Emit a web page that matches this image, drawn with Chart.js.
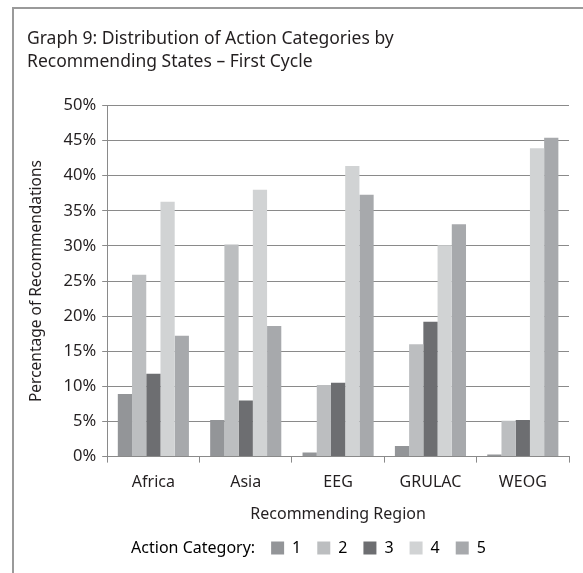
<!DOCTYPE html>
<html>
<head>
<meta charset="utf-8">
<script src="https://cdn.jsdelivr.net/npm/chart.js@4/dist/chart.umd.min.js"></script>
<style>
  body { margin: 0; background: #fff; }
  #wrap { position: relative; width: 583px; height: 573px; }
  #frame { position: absolute; left: 12px; top: 7px; right: 0; bottom: 0;
           border-left: 2px solid #9a9a9a; border-top: 2px solid #9a9a9a; }
  canvas { position: absolute; left: 0; top: 0; }
</style>
</head>
<body>
<div id="wrap">
  <div id="frame"></div>
  <canvas id="chart" width="583" height="573"></canvas>
</div>
<script>
// regions and action categories
const regions = ['Africa', 'Asia', 'EEG', 'GRULAC', 'WEOG'];
const categories = ['1', '2', '3', '4', '5'];

// percentage of recommendations per category, one array per action category
const cat1 = [8.9, 5.2, 0.6, 1.5, 0.3];
const cat2 = [25.9, 30.2, 10.2, 16.0, 5.1];
const cat3 = [11.8, 8.0, 10.5, 19.2, 5.2];
const cat4 = [36.3, 38.0, 41.4, 30.1, 43.9];
const cat5 = [17.2, 18.6, 37.3, 33.1, 45.4];

const yTicks = [0, 5, 10, 15, 20, 25, 30, 35, 40, 45, 50];

const colors = ['#939598', '#bcbec0', '#6d6e71', '#d1d3d4', '#a7a9ac'];
const series = [cat1, cat2, cat3, cat4, cat5];

Chart.defaults.font.family = '"Noto Sans", sans-serif';
Chart.defaults.color = '#231f20';

const ctx = document.getElementById('chart').getContext('2d');
const chart = new Chart(ctx, {
  type: 'bar',
  data: {
    labels: regions,
    datasets: series.map((d, i) => ({
      label: categories[i],
      data: d,
      backgroundColor: colors[i],
      borderWidth: 0,
      barPercentage: 1,
      categoryPercentage: 0.77
    }))
  },
  options: {
    responsive: false,
    animation: false,
    layout: { padding: { left: 27, right: 14, top: 20, bottom: 7 } },
    scales: {
      x: {
        grid: { drawOnChartArea: false, drawTicks: true, tickLength: 6, color: '#8a8a8a' },
        border: { color: '#8a8a8a', width: 1 },
        ticks: { font: { size: 16 }, padding: 10 },
        title: { display: true, text: 'Recommending Region', font: { size: 16 }, padding: { top: 3, bottom: 0 } }
      },
      y: {
        min: 0,
        max: 50,
        afterBuildTicks: (axis) => { axis.ticks = yTicks.map(v => ({ value: v })); },
        grid: { color: '#8a8a8a', lineWidth: 1, tickLength: 5 },
        border: { color: '#8a8a8a', width: 1 },
        ticks: { font: { size: 16.5 }, padding: 6, callback: (v) => v + '%' },
        title: { display: true, text: 'Percentage of Recommendations', font: { size: 15.5 }, padding: { top: 0, bottom: 12 } }
      }
    },
    plugins: {
      title: {
        display: true,
        align: 'start',
        text: ['Graph 9: Distribution of Action Categories by', 'Recommending States \u2013 First Cycle'],
        font: { size: 17.5, weight: 'normal', lineHeight: 1.3 },
        color: '#231f20',
        padding: { top: 8, bottom: 32 }
      },
      legend: {
        position: 'bottom',
        labels: {
          boxWidth: 13,
          boxHeight: 13,
          font: { size: 16 },
          padding: 16,
          generateLabels: (chart) => {
            const items = chart.data.datasets.map((ds, i) => ({
              text: ds.label,
              fillStyle: ds.backgroundColor,
              strokeStyle: ds.backgroundColor,
              lineWidth: 0,
              datasetIndex: i
            }));
            items.unshift({ text: 'Action Category:', fillStyle: 'rgba(0,0,0,0)', strokeStyle: 'rgba(0,0,0,0)', lineWidth: 0, datasetIndex: -1 });
            return items;
          }
        }
      },
      tooltip: { enabled: false }
    }
  }
});
</script>
</body>
</html>
